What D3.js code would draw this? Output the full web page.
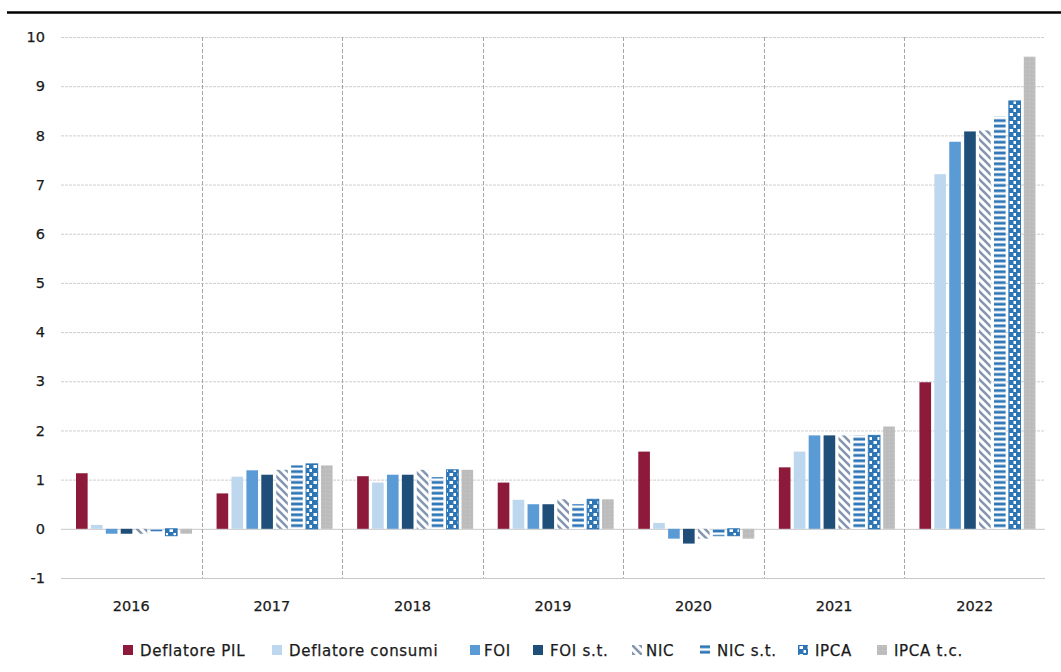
<!DOCTYPE html>
<html>
<head>
<meta charset="utf-8">
<script src="https://cdn.jsdelivr.net/npm/d3@7"></script>
<style>
  body { margin: 0; background: #fff; }
  text { font-family: "DejaVu Sans", Verdana, sans-serif; fill: #1a1a1a; stroke: #1a1a1a; stroke-width: 0.25px; }
</style>
</head>
<body>
<div id="chart"></div>
<script>
// Data
const years = ["2016", "2017", "2018", "2019", "2020", "2021", "2022"];
const seriesNames = ["Deflatore PIL", "Deflatore consumi", "FOI", "FOI s.t.", "NIC", "NIC s.t.", "IPCA", "IPCA t.c."];
const deflatorePIL = [1.13, 0.72, 1.07, 0.94, 1.57, 1.25, 2.98];
const deflatoreConsumi = [0.08, 1.06, 0.94, 0.59, 0.12, 1.57, 7.21];
const foi = [-0.1, 1.19, 1.1, 0.5, -0.2, 1.9, 7.87];
const foiST = [-0.1, 1.1, 1.1, 0.5, -0.3, 1.9, 8.08];
const nic = [-0.1, 1.2, 1.2, 0.6, -0.2, 1.9, 8.1];
const nicST = [-0.05, 1.29, 1.05, 0.5, -0.15, 1.9, 8.38];
const ipca = [-0.14, 1.32, 1.2, 0.6, -0.14, 1.9, 8.7];
const ipcaTC = [-0.1, 1.29, 1.2, 0.6, -0.2, 2.08, 9.6];
const yTicks = [-1, 0, 1, 2, 3, 4, 5, 6, 7, 8, 9, 10];

const seriesValues = [deflatorePIL, deflatoreConsumi, foi, foiST, nic, nicST, ipca, ipcaTC];
const fills = ["#8e1a3b", "#bdd7ee", "#5b9bd5", "#1f4e79", "url(#p-nic)", "url(#p-nicst)", "url(#p-ipca)", "url(#p-ipcatc)"];

const width = 1061, height = 672;
const svg = d3.select("#chart").append("svg")
  .attr("width", width)
  .attr("height", height);

// Patterns
const defs = svg.append("defs");

const pNic = defs.append("pattern").attr("id", "p-nic")
  .attr("patternUnits", "userSpaceOnUse").attr("width", 8).attr("height", 8);
pNic.append("rect").attr("width", 8).attr("height", 8).attr("fill", "#fff");
pNic.append("path").attr("d", "M-2,-2L10,10M-2,6L2,10M6,-2L10,2")
  .attr("stroke", "#8497b0").attr("stroke-width", 2.6);

const pNicSt = defs.append("pattern").attr("id", "p-nicst")
  .attr("patternUnits", "userSpaceOnUse").attr("width", 6).attr("height", 5.4);
pNicSt.append("rect").attr("width", 6).attr("height", 5.4).attr("fill", "#fff");
pNicSt.append("rect").attr("y", 0.4).attr("width", 6).attr("height", 2.8).attr("fill", "#2e75b6");

const pIpca = defs.append("pattern").attr("id", "p-ipca")
  .attr("patternUnits", "userSpaceOnUse").attr("width", 8).attr("height", 8);
pIpca.append("rect").attr("width", 8).attr("height", 8).attr("fill", "#2e75b6");
pIpca.append("rect").attr("x", 1.5).attr("y", 1).attr("width", 3.5).attr("height", 3).attr("fill", "#fff");
pIpca.append("rect").attr("x", 5.5).attr("y", 5).attr("width", 3.5).attr("height", 3).attr("fill", "#fff");

const pIpcaTc = defs.append("pattern").attr("id", "p-ipcatc")
  .attr("patternUnits", "userSpaceOnUse").attr("width", 4).attr("height", 4);
pIpcaTc.append("rect").attr("width", 4).attr("height", 4).attr("fill", "#bcbcbc");
pIpcaTc.append("rect").attr("x", 1).attr("y", 1).attr("width", 1).attr("height", 1).attr("fill", "#cdcdcd");

// Top rule
svg.append("line")
  .attr("x1", 7).attr("x2", width).attr("y1", 12.5).attr("y2", 12.5)
  .attr("stroke", "#000").attr("stroke-width", 2.5);

// Scales
const x0 = d3.scaleBand().domain(years).range([61, 1045]);
const x1 = d3.scaleBand().domain(seriesNames).range([15, 131]).paddingInner(0.22);
const y = d3.scaleLinear().domain([-1, 10]).range([578, 37]);

// Gridlines + y labels
const yAxis = svg.append("g")
  .attr("transform", "translate(61,0)")
  .call(d3.axisLeft(y).tickValues(yTicks).tickSize(-(1045 - 61)).tickPadding(16).tickFormat(d => String(d)));
yAxis.select(".domain").remove();
yAxis.selectAll(".tick line")
  .attr("stroke", d => d === 0 || d === -1 ? "#c8c8c8" : "#cfcfcf")
  .attr("stroke-dasharray", d => d === 0 || d === -1 ? null : "3,1");
yAxis.selectAll(".tick text")
  .style("font-size", "14.5px")
  .attr("fill", "#1a1a1a");

// Category separators
svg.append("g").selectAll("line")
  .data(years.slice(1))
  .join("line")
  .attr("x1", d => Math.round(x0(d)) + 0.5)
  .attr("x2", d => Math.round(x0(d)) + 0.5)
  .attr("y1", y(10))
  .attr("y2", y(-1))
  .attr("stroke", "#a6a6a6")
  .attr("stroke-dasharray", "4,2");

// Bars
const cells = [];
years.forEach((yr, i) => {
  seriesNames.forEach((s, j) => {
    cells.push({ year: yr, series: s, value: seriesValues[j][i], fill: fills[j] });
  });
});

svg.append("g").selectAll("rect")
  .data(cells)
  .join("rect")
  .attr("x", d => x0(d.year) + x1(d.series))
  .attr("y", d => y(Math.max(0, d.value)))
  .attr("width", x1.bandwidth())
  .attr("height", d => Math.abs(y(d.value) - y(0)))
  .attr("fill", d => d.fill)
  .attr("stroke", d => d.series === "IPCA" ? "#2e75b6" : "none")
  .attr("stroke-width", 1);

// Category labels
svg.append("g").selectAll("text")
  .data(years)
  .join("text")
  .attr("x", d => x0(d) + x0.bandwidth() / 2)
  .attr("y", 611)
  .attr("text-anchor", "middle")
  .style("font-size", "14.5px")
  .text(d => d);

// Legend
const legendX = [123, 272, 470, 533, 632, 700, 798, 877];
const legend = svg.append("g").selectAll("g")
  .data(seriesNames)
  .join("g")
  .attr("transform", (d, i) => `translate(${legendX[i]},645)`);
legend.append("rect")
  .attr("width", 10).attr("height", 10)
  .attr("fill", (d, i) => fills[i]);
legend.append("text")
  .attr("x", (d, i) => i === 2 || i === 4 ? 14 : 17)
  .attr("y", 10.5)
  .style("font-size", "15px")
  .style("letter-spacing", "0.7px")
  .text(d => d);
</script>
</body>
</html>
